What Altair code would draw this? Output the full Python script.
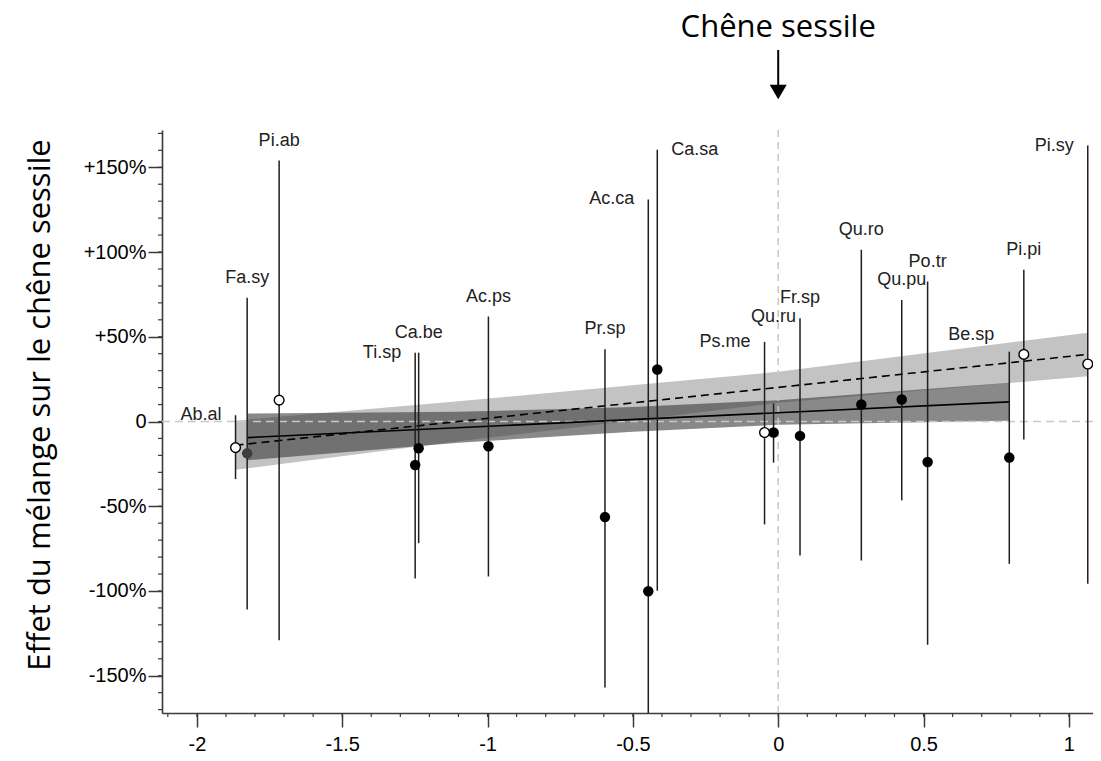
import altair as alt
import pandas as pd

# ---- données ----
especes = ["Ab.al", "Fa.sy", "Pi.ab", "Ti.sp", "Ca.be", "Ac.ps", "Pr.sp", "Ac.ca", "Ca.sa",
           "Ps.me", "Qu.ru", "Fr.sp", "Qu.ro", "Qu.pu", "Po.tr", "Be.sp", "Pi.pi", "Pi.sy"]
x_pos = [-1.867, -1.827, -1.717, -1.249, -1.237, -0.997, -0.596, -0.447, -0.416,
         -0.047, -0.016, 0.075, 0.286, 0.425, 0.514, 0.795, 0.845, 1.065]
effet = [-15.4, -18.8, 12.6, -25.7, -15.8, -14.6, -56.4, -100.2, 30.7,
         -6.5, -6.5, -8.5, 10.0, 13.0, -23.9, -21.3, 39.6, 33.9]
ic_bas = [-34.0, -111.0, -129.0, -92.7, -71.8, -91.5, -157.0, -180.0, -99.8,
          -60.7, -24.3, -79.0, -82.0, -46.5, -131.7, -84.0, -10.6, -95.8]
ic_haut = [3.7, 73.0, 154.0, 40.6, 40.6, 61.9, 42.6, 131.0, 160.4,
           47.0, 10.6, 60.9, 101.3, 71.7, 82.6, 41.2, 89.5, 162.8]
groupe = ["conifere", "feuillu", "conifere", "feuillu", "feuillu", "feuillu", "feuillu", "feuillu", "feuillu",
          "conifere", "feuillu", "feuillu", "feuillu", "feuillu", "feuillu", "feuillu", "conifere", "conifere"]
place_etiquette = ["gauche", "haut", "haut", "gauche", "haut", "haut", "haut", "gauche", "droite",
                   "gauche", "haut_loin", "haut", "haut", "haut", "haut", "gauche_haut", "haut", "gauche"]

droite_feuillus_x = [-1.827, 0.795]
droite_feuillus_y = [-9.5, 11.6]
droite_toutes_x = [-1.867, 1.065]
droite_toutes_y = [-14.0, 39.6]

bande_feuillus_x = [-1.827, -1.1, -0.5, 0.0, 0.795]
bande_feuillus_hi = [4.7, 5.7, 8.5, 12.6, 22.8]
bande_feuillus_lo = [-22.9, -12.5, -6.0, -1.9, 0.4]

bande_toutes_x = [-1.867, -1.1, -0.4, 0.0, 1.065]
bande_toutes_hi = [0.5, 12.0, 23.0, 29.3, 52.4]
bande_toutes_lo = [-28.5, -11.7, 2.7, 11.1, 26.7]

x_ticks = [-2, -1.5, -1, -0.5, 0, 0.5, 1]
y_ticks = [-150, -100, -50, 0, 50, 100, 150]
x_minor = [round(-2.1 + 0.1 * i, 1) for i in range(32)]
y_minor = list(range(-170, 171, 10))

titre_haut = "Chêne sessile"
titre_y = "Effet du mélange sur le chêne sessile"

# ---- tables ----
df = pd.DataFrame({"esp": especes, "x": x_pos, "effet": effet, "bas": ic_bas,
                   "haut": ic_haut, "groupe": groupe, "place": place_etiquette})
df_bf = pd.DataFrame({"x": bande_feuillus_x, "hi": bande_feuillus_hi, "lo": bande_feuillus_lo})
df_bt = pd.DataFrame({"x": bande_toutes_x, "hi": bande_toutes_hi, "lo": bande_toutes_lo})
df_df = pd.DataFrame({"x": droite_feuillus_x, "y": droite_feuillus_y})
df_dt = pd.DataFrame({"x": droite_toutes_x, "y": droite_toutes_y})
df_zero = pd.DataFrame({"v": [0]})
df_xmin = pd.DataFrame({"v": x_minor})
df_ymin = pd.DataFrame({"v": y_minor})

W, H = 931, 583
XS = alt.Scale(domain=[-2.12, 1.083], nice=False, zero=False)
YS = alt.Scale(domain=[-172, 172], nice=False, zero=False)
AXC = "#3a3a3a"

XA = alt.Axis(values=x_ticks, labelExpr="'' + datum.value", tickSize=14,
              labelPadding=7, grid=False, title=None)
YA = alt.Axis(values=y_ticks,
              labelExpr="datum.value > 0 ? '+' + datum.value + '%' : (datum.value == 0 ? '0' : datum.value + '%')",
              tickSize=14, labelPadding=2, grid=False, title=None)


def X(f):
    return alt.X(f, scale=XS, axis=XA, title=None)


def Y(f):
    return alt.Y(f, scale=YS, axis=YA, title=None)


bande_t = alt.Chart(df_bt).mark_area(color="#c3c3c3", opacity=1).encode(
    x=X("x:Q"), y=Y("hi:Q"), y2="lo:Q")
bande_f = alt.Chart(df_bf).mark_area(color="#3a3a3a", opacity=0.6).encode(
    x=X("x:Q"), y=Y("hi:Q"), y2="lo:Q")

zero_h = alt.Chart(df_zero).mark_rule(color="#c8c8c8", strokeDash=[8, 5], strokeWidth=1.5).encode(
    y=Y("v:Q"), x=alt.value(0), x2=alt.value(W))
zero_v = alt.Chart(df_zero).mark_rule(color="#c8c8c8", strokeDash=[7, 5], strokeWidth=1.5).encode(
    x=X("v:Q"), y=alt.value(0), y2=alt.value(H))

ligne_t = alt.Chart(df_dt).mark_line(color="black", strokeDash=[8, 5], strokeWidth=1.6).encode(
    x=X("x:Q"), y=Y("y:Q"))
ligne_f = alt.Chart(df_df).mark_line(color="black", strokeWidth=1.6).encode(
    x=X("x:Q"), y=Y("y:Q"))

barres = alt.Chart(df).mark_rule(color="#1e1e1e", strokeWidth=1.5, clip=True).encode(
    x=X("x:Q"), y=Y("bas:Q"), y2="haut:Q")

pts_pleins = alt.Chart(df).transform_filter(alt.datum.groupe == "feuillu").mark_circle(
    size=110, opacity=1).encode(
    x=X("x:Q"), y=Y("effet:Q"),
    color=alt.condition(alt.datum.esp == "Fa.sy", alt.value("#3d3d3d"), alt.value("black")))
pts_vides = alt.Chart(df).transform_filter(alt.datum.groupe == "conifere").mark_circle(
    size=95, opacity=1, fill="white", stroke="black", strokeWidth=1.4).encode(
    x=X("x:Q"), y=Y("effet:Q"))


def etiquettes(place, **kw):
    return alt.Chart(df).transform_filter(alt.datum.place == place).mark_text(
        font="Liberation Sans", fontSize=18, color="#222222", baseline="middle", **kw).encode(
        x=X("x:Q"), y=Y("haut:Q"), text="esp:N")


lab_haut = etiquettes("haut", align="center", dy=-20)
lab_loin = etiquettes("haut_loin", align="center", dy=-87)
lab_gauche = etiquettes("gauche", align="right", dx=-14)
lab_gh = etiquettes("gauche_haut", align="right", dx=-15, dy=-17)
lab_droite = etiquettes("droite", align="left", dx=14)

min_y = alt.Chart(df_ymin).mark_rule(color=AXC, strokeWidth=1.2).encode(
    y=Y("v:Q"), x=alt.value(0), x2=alt.value(-4))
min_x = alt.Chart(df_xmin).mark_rule(color=AXC, strokeWidth=1.2).encode(
    x=X("v:Q"), y=alt.value(H), y2=alt.value(H + 4))

titre = alt.Chart(pd.DataFrame({"v": [0], "t": [titre_haut]})).mark_text(
    font="Open Sans", fontSize=31, color="black", align="center", baseline="alphabetic").encode(
    x=X("v:Q"), y=alt.value(-93), text="t:N")
fleche = alt.Chart(df_zero).mark_rule(color="black", strokeWidth=2).encode(
    x=X("v:Q"), y=alt.value(-80), y2=alt.value(-42))
pointe = alt.Chart(df_zero).mark_point(shape="triangle-down", filled=True, color="black",
                                       size=289, opacity=1).encode(
    x=X("v:Q"), y=alt.value(-38))
titre_gauche = alt.Chart(pd.DataFrame({"t": [titre_y]})).mark_text(
    font="Open Sans", fontSize=31, color="black", angle=270, align="center",
    baseline="alphabetic").encode(x=alt.value(-112), y=alt.value(275), text="t:N")

chart = alt.layer(
    bande_t, bande_f, zero_h, zero_v, ligne_t, ligne_f, barres, pts_pleins, pts_vides,
    lab_haut, lab_loin, lab_gauche, lab_gh, lab_droite, min_y, min_x,
    titre, fleche, pointe, titre_gauche
).properties(
    width=W, height=H,
    autosize=alt.AutoSizeParams(type="none"),
    padding={"left": 154, "top": 122, "right": 0, "bottom": 40},
).configure_view(stroke=None).configure_axis(
    domainColor=AXC, domainWidth=1.6, tickColor=AXC, tickWidth=1.5,
    labelFont="Liberation Sans", labelFontSize=20, labelColor="black",
)

chart.save("out.html", embed_options={"renderer": "svg", "actions": False})
